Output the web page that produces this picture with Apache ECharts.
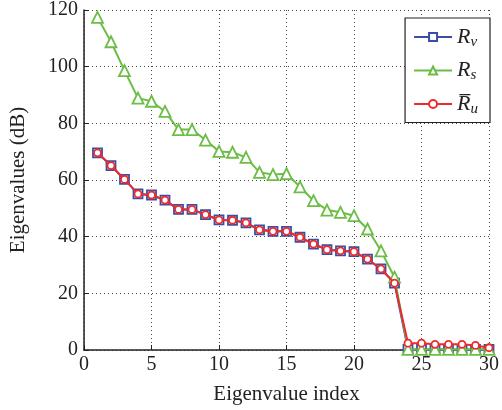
<!DOCTYPE html>
<html><head><meta charset="utf-8">
<script src="https://cdn.jsdelivr.net/npm/echarts@6/dist/echarts.min.js"></script>
<style>html,body{margin:0;padding:0;background:#fff}#c{width:502px;height:410px}</style>
</head><body><div id="c"></div>
<script>
const xIdx = [1,2,3,4,5,6,7,8,9,10,11,12,13,14,15,16,17,18,19,20,21,22,23,24,25,26,27,28,29,30];
const Rv = [69.6,65.1,60.2,55.1,54.7,52.9,49.6,49.6,47.8,45.9,45.8,44.9,42.4,41.9,41.9,39.8,37.4,35.4,35.0,34.7,32.1,28.6,23.6,0.2,0.2,0.2,0.2,0.2,0.2,0.2];
const Rs = [117.4,108.8,98.6,88.9,87.8,84.2,77.8,77.8,74.1,70.1,69.8,68.0,62.7,61.9,62.2,57.6,52.7,49.4,48.6,47.4,42.7,35.0,25.7,0.2,0.2,0.2,0.2,0.2,0.2,0.2];
const Ru = [69.6,65.1,60.2,55.1,54.7,52.9,49.6,49.6,47.8,45.9,45.8,44.9,42.4,41.9,41.9,39.8,37.4,35.4,35.0,34.7,32.1,28.6,23.6,2.4,2.4,2.0,2.0,2.0,1.6,0.8];
const xTicks = [0,5,10,15,20,25,30];
const yTicks = [0,20,40,60,80,100,120];

const font = '"Liberation Serif", "DejaVu Serif", serif';
const pair = (ys) => xIdx.map((x,i)=>[x, ys[i]]);
const chart = echarts.init(document.getElementById('c'), null, {renderer:'canvas'});
const gridLine = {show:true, lineStyle:{color:'#444', type:[1,3], width:1}};
chart.setOption({
  animation:false,
  backgroundColor:'#fff',
  grid:{left:84, right:8, top:10, bottom:59, containLabel:false},
  xAxis:{type:'value', min:xTicks[0], max:xTicks[xTicks.length-1], interval:5,
    name:'Eigenvalue index', nameLocation:'middle', nameGap:34,
    nameTextStyle:{fontFamily:font, fontSize:21, color:'#222'},
    axisLine:{show:true, onZero:false, lineStyle:{color:'#222', width:1.5}},
    axisTick:{show:true, inside:true, length:5, lineStyle:{color:'#222'}},
    axisLabel:{fontFamily:font, fontSize:20, color:'#222', margin:5},
    splitLine:gridLine},
  yAxis:{type:'value', min:yTicks[0], max:yTicks[yTicks.length-1], interval:20,
    name:'Eigenvalues (dB)', nameLocation:'middle', nameGap:55, nameRotate:90,
    nameTextStyle:{fontFamily:font, fontSize:21, color:'#222'},
    axisLine:{show:true, lineStyle:{color:'#222', width:1.5}},
    axisTick:{show:true, inside:true, length:5, lineStyle:{color:'#222'}},
    axisLabel:{fontFamily:font, fontSize:20, color:'#222', margin:6},
    splitLine:gridLine},
  legend:{orient:'vertical', right:12, top:18, width:83,
    backgroundColor:'#fff', borderColor:'#222', borderWidth:1.2, borderRadius:0,
    padding:[8,12,6,8], itemGap:10, itemWidth:38, itemHeight:10,
    data:['Rv','Rs','Ru'],
    formatter:(n)=> n==='Rv' ? '{r|R}{s|v}' : n==='Rs' ? '{r|R}{s|s}' : '{r|R\u0305}{s|u}',
    textStyle:{rich:{
      r:{fontFamily:font, fontStyle:'italic', fontSize:22, color:'#222'},
      s:{fontFamily:font, fontStyle:'italic', fontSize:15, color:'#222', padding:[10,0,0,0]}
    }}},
  series:[
    {name:'Rv', type:'line', data:pair(Rv), symbol:'rect', symbolSize:9,
      itemStyle:{color:'#fff', borderColor:'#3b4ea6', borderWidth:1.8},
      lineStyle:{color:'#3b4ea6', width:2}, z:2},
    {name:'Rs', type:'line', data:pair(Rs), symbol:'triangle', symbolSize:11,
      itemStyle:{color:'#fff', borderColor:'#6cbd45', borderWidth:1.8},
      lineStyle:{color:'#6cbd45', width:2}, z:3},
    {name:'Ru', type:'line', data:pair(Ru), symbol:'circle', symbolSize:7,
      itemStyle:{color:'#fff', borderColor:'#ee2b2b', borderWidth:1.8},
      lineStyle:{color:'#ee2b2b', width:2}, z:4}
  ]
});
</script></body></html>
